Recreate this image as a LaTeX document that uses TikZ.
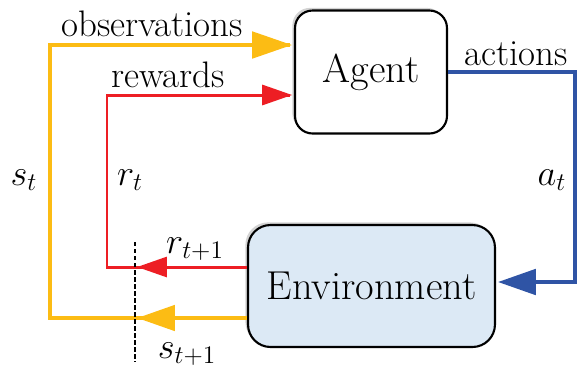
\documentclass[tikz,border=0pt]{standalone}
\usepackage{amsmath}
\usetikzlibrary{arrows.meta,shadows}
\definecolor{obsyellow}{RGB}{252,188,20}
\definecolor{rewred}{RGB}{237,30,36}
\definecolor{actblue}{RGB}{47,84,165}
\definecolor{envfill}{RGB}{220,233,245}
\tikzstyle{block} = [draw, line width=1.2pt, rounded corners=0.35cm,
    drop shadow={shadow xshift=-1.5pt, shadow yshift=1.5pt, opacity=0.35},
    font=\fontsize{23}{27}\selectfont]
\tikzstyle{obsline} = [obsyellow, line width=2.8pt]
\tikzstyle{rewline} = [rewred, line width=1.7pt]
\tikzstyle{actline} = [actblue, line width=2.8pt]
\tikzstyle{lbl} = [font=\fontsize{21}{25}\selectfont, inner sep=0pt]
\tikzstyle{mlbl} = [font=\fontsize{21}{25}\selectfont, inner sep=0pt]

\begin{document}
\begin{tikzpicture}[x=0.02cm,y=-0.02cm]
\useasboundingbox (0,0) rectangle (579,370);

\node[block, fill=white, minimum width=3.04cm, minimum height=2.46cm] (agent) at (371,72) {Agent};
\node[block, fill=envfill, rounded corners=0.45cm, minimum width=4.94cm, minimum height=2.44cm] (env) at (371.5,286) {Environment};

\coordinate (stop) at (50,45);
\coordinate (sbot) at (50,318);
\coordinate (scut) at (137,318);
\coordinate (rtop) at (107,95);
\coordinate (rbot) at (107,267);
\coordinate (rcut) at (137,267);
\coordinate (atop) at (575,72);
\coordinate (abot) at (575,282);
\coordinate (cuttop) at (135,242);
\coordinate (cutbot) at (135,362);

% observations / states
\draw[obsline, line join=miter] (env.west |- sbot) -- (sbot) -- (stop) -- ([xshift=-2pt]agent.west |- stop);
\draw[obsline, -{Triangle[length=0.8cm,width=0.52cm]}] ([xshift=-2pt]agent.west |- stop) ++(-40,0) -- ([xshift=-1pt]agent.west |- stop);
\draw[obsline, -{Triangle[length=0.76cm,width=0.5cm]}] (env.west |- sbot) -- (scut);

% rewards
\draw[rewline, line join=miter] (env.west |- rbot) -- (rbot) -- (rtop) -- ([xshift=-2pt]agent.west |- rtop);
\draw[rewline, -{Triangle[length=0.6cm,width=0.4cm]}] ([xshift=-2pt]agent.west |- rtop) ++(-30,0) -- ([xshift=-1pt]agent.west |- rtop);
\draw[rewline, -{Triangle[length=0.6cm,width=0.4cm]}] (env.west |- rbot) -- (rcut);

% actions
\draw[actline, line join=miter, -{Triangle[length=0.76cm,width=0.5cm]}] (agent.east |- atop) -- (atop) -- (abot) -- ([xshift=1pt]env.east |- abot);

% time cut
\draw[line width=1.5pt, dash pattern=on 2.5pt off 1.5pt] (cuttop) -- (cutbot);

\node[lbl] (obslbl) at (152,24) {observations};
\node[lbl] (rewlbl) at (168,75) {rewards};
\node[lbl] (actlbl) at (516,54) {actions};
\node[mlbl] (st) at (24,180) {$s_t$};
\node[mlbl] (rt) at (130,180) {$r_t$};
\node[mlbl] (at) at (552,180) {$a_t$};
\node[mlbl] (rt1) at (195,249) {$r_{t+1}$};
\node[mlbl] (st1) at (187,354) {$s_{t+1}$};
\end{tikzpicture}
\end{document}
